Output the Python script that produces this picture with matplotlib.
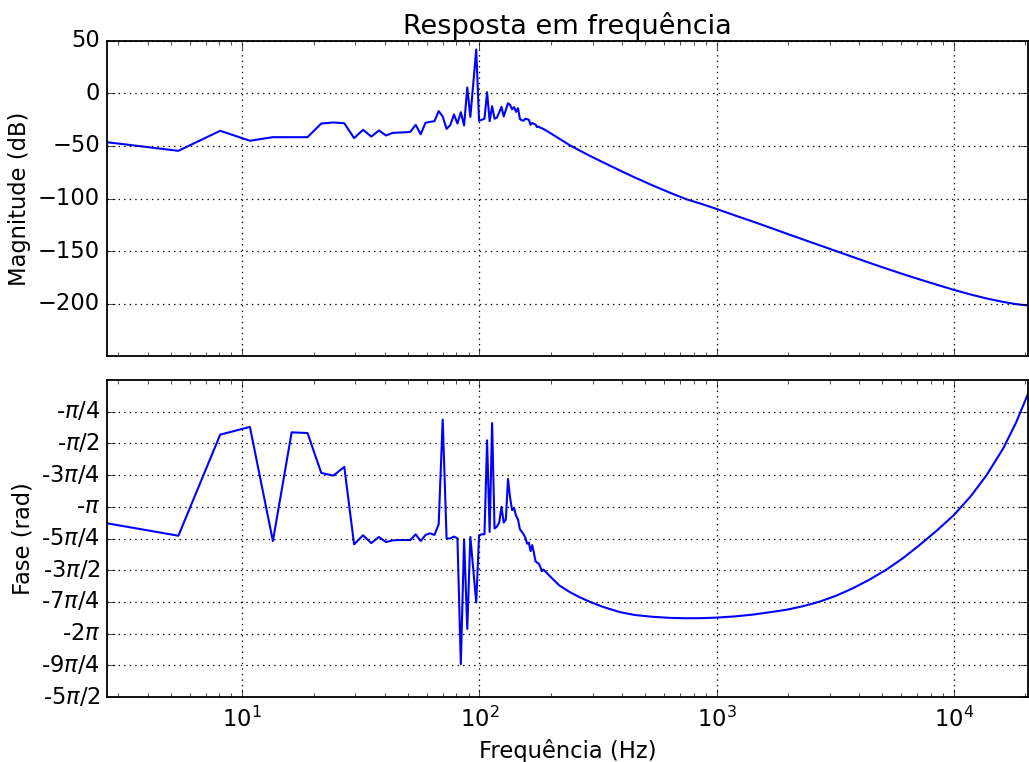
import matplotlib
matplotlib.use("Agg")
import matplotlib.pyplot as plt
import numpy as np
from matplotlib.ticker import FixedLocator, FixedFormatter

# Frequency grid (Hz): FFT bins of 44.1 kHz / 16384 in the noisy band, then a coarser set above
freq_hz = [
    2.69, 5.38, 8.07, 10.77, 13.46, 16.15, 18.84, 21.53, 24.22, 26.92,
    29.61, 32.30, 34.99, 37.68, 40.37, 43.07, 45.76, 48.45, 51.14, 53.83,
    56.52, 59.22, 61.91, 64.60, 67.29, 69.98, 72.67, 75.37, 78.06, 80.75,
    83.44, 86.13, 88.82, 91.52, 94.21, 96.90, 99.59, 102.28, 104.97, 107.67,
    110.36, 113.05, 115.74, 118.43, 121.12, 123.82, 126.51, 129.20, 131.89, 134.58,
    137.27, 139.97, 142.66, 145.35, 148.04, 150.73, 153.42, 156.12, 158.81, 161.50,
    164.19, 166.88, 169.57, 172.27, 174.96, 177.65, 180.34, 183.03, 185.72, 188.42,
    200, 217, 240, 265, 291, 330, 390, 450, 539, 640,
    745, 870, 1000, 1200, 1423, 1700, 1969, 2300, 2720, 3200,
    3759, 4400, 5200, 6100, 7187, 8500, 10000, 11800, 13740, 16140,
    18300, 20530,
]

# Magnitude (dB)
mag_db = [
    -46.4, -54.6, -35.5, -45.0, -41.6, -41.6, -41.6, -28.6, -27.6, -28.3,
    -42.5, -34.6, -41.0, -35.2, -40.0, -37.5, -37.2, -37.0, -36.5, -29.8,
    -38.8, -27.9, -27.0, -26.4, -16.8, -21.9, -33.7, -30.0, -20.0, -28.6,
    -17.8, -30.5, 5.7, -22.3, 10.0, 41.9, -26.0, -25.0, -24.0, 1.2,
    -26.4, -12.1, -24.0, -23.0, -18.0, -12.7, -21.9, -15.5, -9.3, -10.8,
    -15.0, -13.0, -17.5, -14.0, -24.2, -25.5, -25.9, -24.0, -24.5, -25.0,
    -29.8, -28.0, -28.9, -29.5, -32.0, -31.5, -32.5, -33.0, -33.8, -34.5,
    -38.0, -43.0, -49.2, -54.4, -59.2, -65.3, -73.2, -79.8, -87.7, -94.8,
    -100.7, -105.4, -110.0, -116.3, -122.0, -128.2, -133.4, -138.8, -144.6, -150.2,
    -155.8, -161.2, -166.8, -172.0, -177.1, -182.2, -187.0, -191.5, -195.2, -198.5,
    -200.6, -201.9,
]

# Phase (rad)
phase_rad = [
    -3.550, -3.858, -1.354, -1.162, -3.990, -1.297, -1.313, -2.303, -2.369, -2.152,
    -4.072, -3.848, -4.040, -3.889, -4.015, -3.974, -3.965, -3.965, -3.965, -3.823,
    -3.990, -3.839, -3.798, -3.839, -3.575, -0.980, -3.930, -3.924, -3.880, -3.924,
    -7.040, -3.949, -6.167, -3.889, -4.712, -5.510, -3.848, -3.823, -3.823, -1.495,
    -3.764, -1.065, -3.682, -3.632, -3.531, -3.142, -3.531, -3.456, -2.450, -2.909,
    -3.223, -3.176, -3.365, -3.456, -3.698, -3.757, -3.823, -3.905, -4.056, -4.031,
    -4.238, -4.090, -4.279, -4.489, -4.524, -4.546, -4.618, -4.738, -4.697, -4.728,
    -4.885, -5.089, -5.253, -5.385, -5.492, -5.617, -5.749, -5.821, -5.868, -5.894,
    -5.903, -5.900, -5.887, -5.856, -5.812, -5.749, -5.693, -5.608, -5.491, -5.341,
    -5.158, -4.948, -4.697, -4.414, -4.084, -3.723, -3.346, -2.875, -2.356, -1.696,
    -1.052, -0.346,
]

mag_ticks = [50, 0, -50, -100, -150, -200]
phase_ticks_quarters = [-1, -2, -3, -4, -5, -6, -7, -8, -9, -10]
phase_tick_labels = [r"-$\pi$/4", r"-$\pi$/2", r"-3$\pi$/4", r"-$\pi$", r"-5$\pi$/4",
                     r"-3$\pi$/2", r"-7$\pi$/4", r"-2$\pi$", r"-9$\pi$/4", r"-5$\pi$/2"]

plt.style.use("classic")
plt.rcParams.update({
    "font.family": ["DejaVu Sans"],
    "mathtext.fontset": "dejavusans",
    "font.size": 16.3,
    "xtick.labelsize": 16.3,
    "ytick.labelsize": 16.3,
    "axes.linewidth": 1.3,
    "xtick.major.size": 5.5,
    "ytick.major.size": 5.5,
    "xtick.minor.size": 2.8,
    "ytick.minor.size": 2.8,
    "xtick.major.pad": 7,
    "ytick.major.pad": 5,
    "grid.linewidth": 0.9,
})

fig = plt.figure(figsize=(10.29, 7.62), dpi=100, facecolor="white")
ax1 = fig.add_axes([0.104, 0.5328, 0.895, 0.4134])
ax2 = fig.add_axes([0.104, 0.0853, 0.895, 0.416], sharex=ax1)

ax1.semilogx(freq_hz, mag_db, color="b", lw=1.5)
ax1.set_ylim(-250, 50)
ax1.yaxis.set_major_locator(FixedLocator(mag_ticks))
ax1.set_ylabel("Magnitude (dB)", fontsize=16.3)
ax1.set_title("Resposta em frequência", fontsize=19.5)
ax1.grid(True, which="major")
ax1.tick_params(labelbottom=False)

ax2.semilogx(freq_hz, phase_rad, color="b", lw=1.5)
ax2.set_ylim(-2.5 * np.pi, 0)
ax2.yaxis.set_major_locator(FixedLocator([q * np.pi / 4 for q in phase_ticks_quarters]))
ax2.yaxis.set_major_formatter(FixedFormatter(phase_tick_labels))
ax2.set_ylabel("Fase (rad)", fontsize=16.3)
ax2.set_xlabel("Frequência (Hz)", fontsize=16.3)
ax2.grid(True, which="major")

ax2.set_xlim(freq_hz[0], freq_hz[-1])

fig.savefig("out.png", dpi=100, facecolor="white")
